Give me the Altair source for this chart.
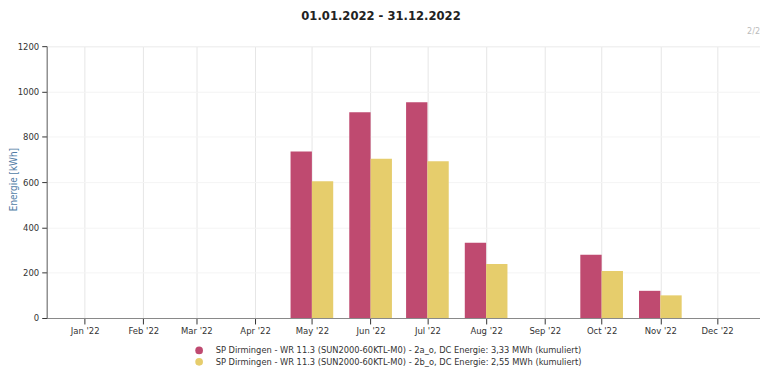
import altair as alt
import pandas as pd

months = ["2022-05-01", "2022-06-01", "2022-07-01", "2022-08-01", "2022-10-01", "2022-11-01"]
series_a = [735, 908, 952, 332, 279, 120]
series_b = [604, 703, 692, 238, 208, 100]
name_a = "SP Dirmingen - WR 11.3 (SUN2000-60KTL-M0) - 2a_o, DC Energie: 3,33 MWh (kumuliert)"
name_b = "SP Dirmingen - WR 11.3 (SUN2000-60KTL-M0) - 2b_o, DC Energie: 2,55 MWh (kumuliert)"
title_text = "01.01.2022 - 31.12.2022"
page_text = "2/2"

rows = []
for m, a, b in zip(months, series_a, series_b):
    rows.append({"date": m, "value": a, "series": name_a})
    rows.append({"date": m, "value": b, "series": name_b})
df = pd.DataFrame(rows)

RED = "#BF4A70"
YEL = "#E6CD6C"
FONT = "DejaVu Sans Condensed"

xscale = alt.Scale(
    type="utc",
    domain=[alt.DateTime(year=2021, month=12, date=14, hours=14, utc=True),
            alt.DateTime(year=2022, month=12, date=21, utc=True)],
)
yscale = alt.Scale(domain=[0, 1200], nice=False)
color = alt.Color(
    "series:N",
    scale=alt.Scale(domain=[name_a, name_b], range=[RED, YEL]),
    legend=alt.Legend(
        title=None, orient="none", legendX=149, legendY=302, padding=0,
        symbolType="circle", symbolSize=60, symbolStrokeWidth=0,
        labelFont=FONT, labelFontSize=9.3, labelColor="#333333",
        labelOffset=12, rowPadding=1.5, labelLimit=600,
    ),
)

xaxis = alt.Axis(
    title=None, format="%b '%y", tickCount=alt.TimeIntervalStep(interval="month", step=1),
    labelFont=FONT, labelFontSize=9.5, labelColor="#333333", tickSize=6,
    tickColor="#333333", domainColor="#888888", gridColor="#e6e6e6",
    labelPadding=2, grid=True,
)
yaxis = alt.Axis(
    title="Energie [kWh]", values=[0, 200, 400, 600, 800, 1000, 1200], format="d",
    labelFont=FONT, labelFontSize=9.5, labelColor="#333333", tickSize=5,
    tickColor="#333333", domainColor="#666666", gridColor="#f4f4f4",
    labelPadding=3, titleFont=FONT, titleFontSize=10, titleColor="#4F7CA6",
    titleFontWeight="normal", titleX=-33, titleY=134, titleAngle=-90,
    titleBaseline="middle", titleAlign="center",
)

base = alt.Chart(df)
bars_a = base.transform_filter(alt.datum.series == name_a).mark_bar(
    width=21.5, xOffset=-10.75
).encode(
    x=alt.X("date:T", scale=xscale, axis=xaxis),
    y=alt.Y("value:Q", scale=yscale, axis=yaxis),
    color=color,
)
bars_b = base.transform_filter(alt.datum.series == name_b).mark_bar(
    width=21.5, xOffset=10.75
).encode(
    x=alt.X("date:T", scale=xscale, axis=xaxis),
    y=alt.Y("value:Q", scale=yscale, axis=yaxis),
    color=color,
)

title = alt.Chart(pd.DataFrame({"t": [title_text]})).mark_text(
    font=FONT, fontSize=13, fontWeight="bold", color="#222222", align="center", baseline="middle"
).encode(x=alt.value(337), y=alt.value(-30), text="t:N")

page = alt.Chart(pd.DataFrame({"t": [page_text]})).mark_text(
    font=FONT, fontSize=9, color="#bbbbbb", align="right", baseline="middle"
).encode(x=alt.value(719), y=alt.value(-15), text="t:N")

chart = alt.layer(bars_a, bars_b, title, page).properties(
    width=719, height=274,
    autosize=alt.AutoSizeParams(type="none"),
    padding={"left": 39, "top": 37, "right": 0, "bottom": 60},
).configure_view(stroke=None).configure(background="white")

chart.save("out.html", embed_options={"renderer": "svg", "actions": False})
